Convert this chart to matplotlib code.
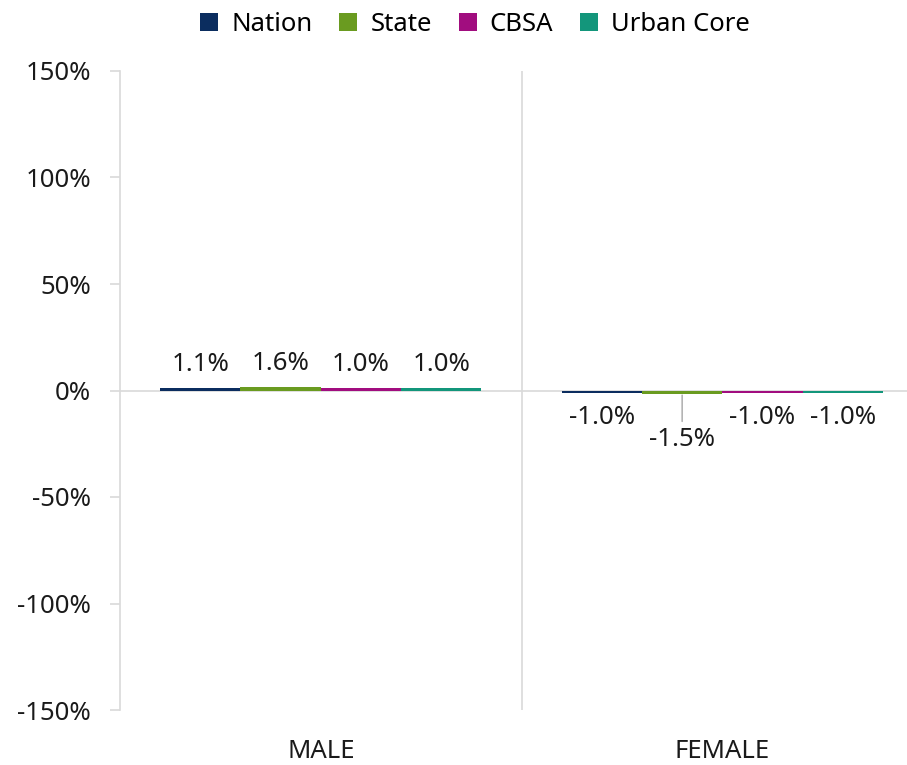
import numpy as np
import matplotlib.pyplot as plt
from matplotlib.ticker import FuncFormatter

plt.rcParams['font.family'] = ['Noto Sans', 'DejaVu Sans']

categories = ["MALE", "FEMALE"]
series = ["Nation", "State", "CBSA", "Urban Core"]
colors = ["#0b2d5f", "#6a9b20", "#a10d7f", "#13967b"]
# percent change per series, [male, female]
nation = [1.1, -1.0]
state = [1.6, -1.5]
cbsa = [1.0, -1.0]
urban_core = [1.0, -1.0]
values = [nation, state, cbsa, urban_core]

grid_col = "#d9d9d9"
text_col = "#1a1a1a"
fs = 18.5

fig = plt.figure(figsize=(9.07, 7.65), dpi=100)
ax = fig.add_axes([120/907, 1 - 710/765, 1 - 120/907, (710 - 71)/765])

x = np.arange(len(categories))
w = 0.2
for i, (name, vals, c) in enumerate(zip(series, values, colors)):
    pos = x + (i - 1.5) * w
    ax.bar(pos, vals, width=w, color=c, label=name, zorder=3)
    for p, v in zip(pos, vals):
        if v >= 0:
            ax.annotate(f"{v:.1f}%", (p, v), xytext=(0, 8), textcoords="offset points",
                        ha="center", va="bottom", fontsize=fs, color=text_col)
        elif v <= -1.5:
            # pushed down with a leader line
            ax.annotate(f"{v:.1f}%", (p, v), xytext=(0, -24), textcoords="offset points",
                        ha="center", va="top", fontsize=fs, color=text_col,
                        arrowprops=dict(arrowstyle="-", color="#a6a6a6", lw=1,
                                        shrinkA=2, shrinkB=1))
        else:
            ax.annotate(f"{v:.1f}%", (p, v), xytext=(0, -9), textcoords="offset points",
                        ha="center", va="top", fontsize=fs, color=text_col)

ax.set_xlim(-0.5, 1.46)
ax.set_ylim(-150, 150)
ax.set_yticks(np.arange(-150, 151, 50))
ax.yaxis.set_major_formatter(FuncFormatter(lambda v, _: f"{v:.0f}%"))
ax.set_xticks(x)
ax.set_xticklabels(categories)

for s in ["top", "right", "bottom"]:
    ax.spines[s].set_visible(False)
ax.spines["left"].set_color(grid_col)
ax.spines["left"].set_linewidth(1.2)
ax.axhline(0, color=grid_col, lw=1.2, zorder=2)
ax.axvline(0.5, color=grid_col, lw=1.2, zorder=1)

ax.tick_params(axis="y", length=7, width=1.2, color=grid_col, pad=14,
               labelsize=fs, labelcolor=text_col)
ax.tick_params(axis="x", length=0, pad=21, labelsize=fs, labelcolor=text_col)

ax.legend(loc="upper center", bbox_to_anchor=(475/907, 0.998), bbox_transform=fig.transFigure,
          ncol=4, frameon=False, fontsize=fs, handlelength=0.7, handleheight=0.7,
          handletextpad=0.5, columnspacing=1.05, borderaxespad=0.0)

fig.savefig("out.png", dpi=100)
